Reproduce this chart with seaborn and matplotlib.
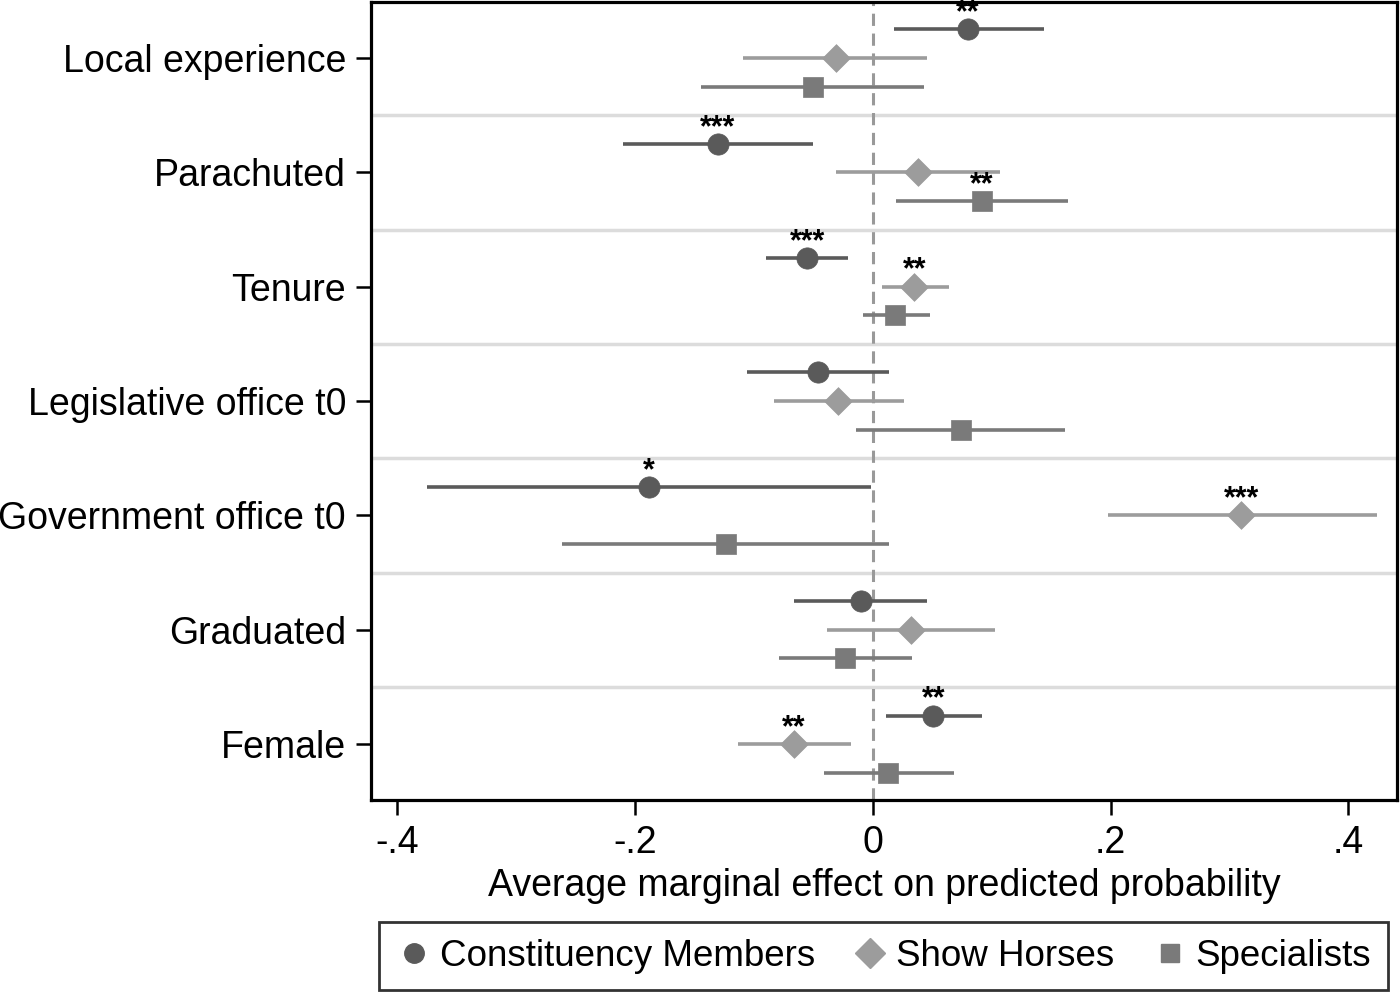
import numpy as np
import pandas as pd
import seaborn as sns
import matplotlib.pyplot as plt
from matplotlib.lines import Line2D

variables = ['Local experience', 'Parachuted', 'Tenure', 'Legislative office t0',
             'Government office t0', 'Graduated', 'Female']
groups = ['Constituency Members', 'Show Horses', 'Specialists']

cm_est = [0.080, -0.130, -0.055, -0.046, -0.188, -0.010, 0.051]
cm_lo = [0.018, -0.210, -0.090, -0.106, -0.375, -0.066, 0.011]
cm_hi = [0.144, -0.050, -0.021, 0.014, -0.001, 0.046, 0.092]
cm_stars = ['**', '***', '***', '', '*', '', '**']

sh_est = [-0.031, 0.038, 0.035, -0.029, 0.310, 0.032, -0.066]
sh_lo = [-0.109, -0.031, 0.008, -0.083, 0.198, -0.038, -0.113]
sh_hi = [0.046, 0.107, 0.064, 0.026, 0.424, 0.103, -0.018]
sh_stars = ['', '', '**', '', '***', '', '**']

sp_est = [-0.050, 0.092, 0.019, 0.074, -0.123, -0.023, 0.013]
sp_lo = [-0.144, 0.020, -0.008, -0.014, -0.261, -0.079, -0.041]
sp_hi = [0.043, 0.164, 0.048, 0.162, 0.014, 0.033, 0.068]
sp_stars = ['', '**', '', '', '', '', '']

rows = []
for g, est, lo, hi, st in [(groups[0], cm_est, cm_lo, cm_hi, cm_stars),
                           (groups[1], sh_est, sh_lo, sh_hi, sh_stars),
                           (groups[2], sp_est, sp_lo, sp_hi, sp_stars)]:
    for i, v in enumerate(variables):
        rows.append(dict(variable=v, group=g, est=est[i], lo=lo[i], hi=hi[i], stars=st[i]))
df = pd.DataFrame(rows)

offsets = {groups[0]: -0.25, groups[1]: 0.0, groups[2]: 0.25}
df['y'] = df['variable'].map({v: i for i, v in enumerate(variables)}) + df['group'].map(offsets)

colors = {groups[0]: '#5a5a5a', groups[1]: '#9c9c9c', groups[2]: '#7a7a7a'}
markers = {groups[0]: 'o', groups[1]: 'D', groups[2]: 's'}
sizes = {groups[0]: 235, groups[1]: 200, groups[2]: 225}

sns.set_style('white')
plt.rcParams['font.family'] = ['Liberation Sans', 'DejaVu Sans']
plt.rcParams['text.color'] = 'black'
plt.rcParams['xtick.color'] = 'black'
plt.rcParams['ytick.color'] = 'black'
plt.rcParams['axes.labelcolor'] = 'black'

fig = plt.figure(figsize=(14, 9.94), dpi=100)
ax = fig.add_axes([0.265, 0.195, 0.733, 0.803])

for i in range(len(variables) - 1):
    ax.axhline(i + 0.5, color='#dcdcdc', lw=2.5, zorder=0)
ax.axvline(0, color='#999999', lw=2.2, ls=(0, (4, 2.5)), zorder=1)

for g in groups:
    sub = df[df['group'] == g]
    ax.hlines(sub['y'], sub['lo'], sub['hi'], color=colors[g], lw=2.6, zorder=2)

for g in groups:
    sub = df[df['group'] == g]
    sns.scatterplot(data=sub, x='est', y='y', marker=markers[g], color=colors[g],
                    s=sizes[g], edgecolor=colors[g], linewidth=0.5, ax=ax, zorder=3,
                    legend=False)
    for _, r in sub.iterrows():
        if r['stars']:
            ax.text(r['est'], r['y'] - 0.07, r['stars'], ha='center', va='baseline',
                    fontsize=22, fontweight='bold', zorder=4)

ax.set_xlim(-0.4218, 0.441)
ax.set_ylim(6.49, -0.49)
ax.set_yticks(range(len(variables)))
ax.set_yticklabels(variables)
ax.set_xticks([-0.4, -0.2, 0, 0.2, 0.4])
ax.set_xticklabels(['-.4', '-.2', '0', '.2', '.4'])
ax.tick_params(axis='both', labelsize=27, length=11, width=1.8, direction='out',
               left=True, bottom=True, pad=7)
ax.set_xlabel('Average marginal effect on predicted probability', fontsize=27, labelpad=5)
ax.set_ylabel('')
for s in ax.spines.values():
    s.set_linewidth(2.3)
    s.set_color('black')

handles = [Line2D([], [], ls='', marker=markers[g], color=colors[g],
                  markersize=14 if g == groups[0] else (15 if g == groups[1] else 13))
           for g in groups]
leg = fig.legend(handles, groups, loc='lower center', bbox_to_anchor=(0.631, 0.0), ncol=3,
                 fontsize=26.5, frameon=True, fancybox=False, edgecolor='black',
                 handletextpad=0.2, columnspacing=1.0, borderpad=0.45, handlelength=1.0,
                 borderaxespad=0.1)
leg.get_frame().set_linewidth(2)

fig.savefig('out.png', dpi=100)
